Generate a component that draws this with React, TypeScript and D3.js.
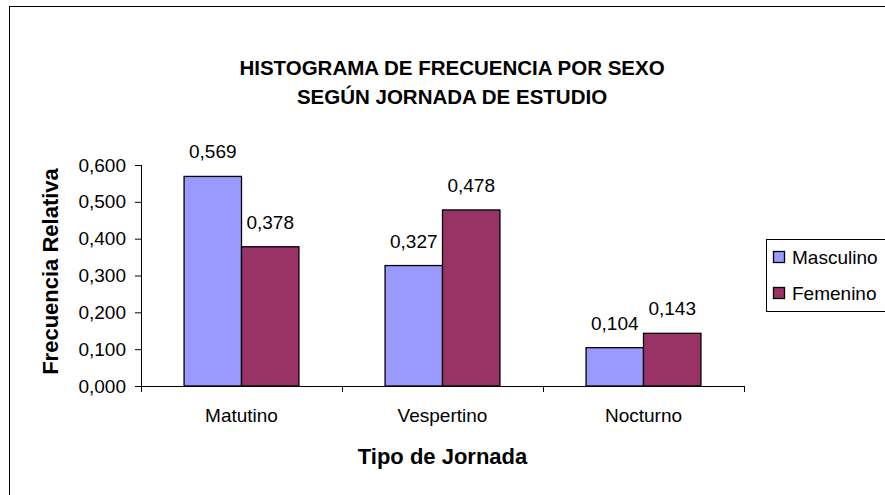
import React from "react";
import * as d3 from "d3";

const categories = ["Matutino", "Vespertino", "Nocturno"];
const seriesNames = ["Masculino", "Femenino"];
const masculino = [0.569, 0.327, 0.104];
const femenino = [0.378, 0.478, 0.143];
const yTicks = [0, 0.1, 0.2, 0.3, 0.4, 0.5, 0.6];
const colors = ["#9999FF", "#993366"];
const titleLines = ["HISTOGRAMA DE FRECUENCIA POR SEXO", "SEGÚN JORNADA DE ESTUDIO"];

const W = 885;
const H = 495;
const FONT = "'Liberation Sans', Arial, sans-serif";
const fmt = (v: number) => v.toFixed(3).replace(".", ",");

export default function App() {
  const left = 141;
  const right = 744;
  const top = 165;
  const bottom = 386;
  const x = d3.scaleBand<string>().domain(categories).range([left, right]).paddingInner(0).paddingOuter(0);
  const inner = d3.scaleBand<string>().domain(seriesNames).range([0, x.bandwidth()]).paddingInner(0).paddingOuter(0.75);
  const y = d3.scaleLinear().domain([0, 0.6]).range([bottom, top]);
  const series = [masculino, femenino];

  return (
    <svg width={W} height={H} style={{ position: "absolute", left: 0, top: 0, background: "#fff" }} fontFamily={FONT}>
      <rect x={9.5} y={6.5} width={900} height={600} fill="#fff" stroke="#000" strokeWidth={1} />
      {titleLines.map((t, i) => (
        <text key={t} x={452} y={67 + i * 29} textAnchor="middle" dominantBaseline="central" fontWeight="bold" fontSize={20.5} fill="#000">
          {t}
        </text>
      ))}
      {/* bars */}
      {categories.map((c, ci) => (
        <g key={c}>
          {seriesNames.map((s, si) => {
            const v = series[si][ci];
            const bx = (x(c) as number) + (inner(s) as number);
            const bw = inner.bandwidth();
            return (
              <g key={s}>
                <rect x={bx} y={y(v)} width={bw} height={bottom - y(v)} fill={colors[si]} stroke="#000" strokeWidth={1.3} />
                <text x={bx + bw / 2} y={y(v) - 18} textAnchor="middle" fontSize={19} fill="#000">
                  {fmt(v)}
                </text>
              </g>
            );
          })}
        </g>
      ))}
      {/* y axis */}
      <line x1={left + 0.5} x2={left + 0.5} y1={top} y2={bottom} stroke="#000" strokeWidth={1} />
      {yTicks.map((t) => (
        <g key={t}>
          <line x1={left - 6} x2={left} y1={y(t) + 0.5} y2={y(t) + 0.5} stroke="#000" />
          <text x={126} y={y(t)} textAnchor="end" dominantBaseline="central" fontSize={19} fill="#000">
            {fmt(t)}
          </text>
        </g>
      ))}
      {/* x axis */}
      <line x1={left} x2={right} y1={bottom + 0.5} y2={bottom + 0.5} stroke="#000" />
      {[...categories.map((c) => x(c) as number), right].map((px, i) => (
        <line key={i} x1={px + 0.5} x2={px + 0.5} y1={bottom} y2={bottom + 6} stroke="#000" />
      ))}
      {categories.map((c) => (
        <text key={c} x={(x(c) as number) + x.bandwidth() / 2} y={415} textAnchor="middle" dominantBaseline="central" fontSize={19} fill="#000">
          {c}
        </text>
      ))}
      <text x={442.5} y={456} textAnchor="middle" dominantBaseline="central" fontWeight="bold" fontSize={22} fill="#000">
        Tipo de Jornada
      </text>
      <text transform={`translate(50,271.5) rotate(-90)`} textAnchor="middle" dominantBaseline="central" fontWeight="bold" fontSize={22} fill="#000">
        Frecuencia Relativa
      </text>
      {/* legend */}
      <rect x={766.5} y={239.5} width={130} height={72} fill="#fff" stroke="#000" strokeWidth={1} />
      {seriesNames.map((s, i) => (
        <g key={s}>
          <rect x={773.5} y={251.5 + i * 36} width={11} height={11} fill={colors[i]} stroke="#000" strokeWidth={1.3} />
          <text x={792} y={257 + i * 36} dominantBaseline="central" fontSize={19} fill="#000">
            {s}
          </text>
        </g>
      ))}
    </svg>
  );
}
